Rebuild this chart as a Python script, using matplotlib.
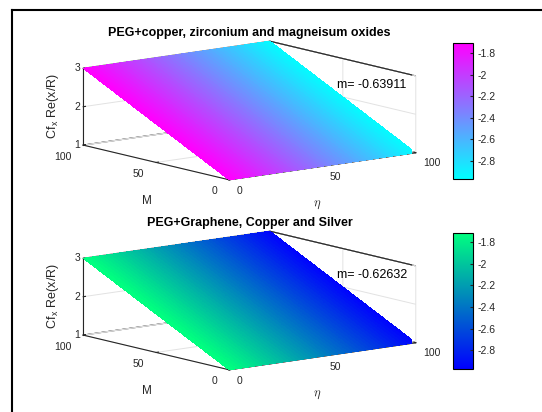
import numpy as np
import matplotlib
matplotlib.use("Agg")
import matplotlib.pyplot as plt
from matplotlib.colors import Normalize
from matplotlib.lines import Line2D
from matplotlib.ticker import FormatStrFormatter

plt.rcParams['font.family'] = ['Liberation Sans', 'DejaVu Sans']
plt.rcParams['mathtext.fontset'] = 'cm'
plt.rcParams['grid.color'] = '#e2e2e2'
plt.rcParams['grid.linewidth'] = 0.7
plt.rcParams['axes3d.automargin'] = False

# data: plane corners and colour values
eta = [0, 100]
M = [0, 100]
cf_edges = [1, 3]            # Cf_x Re(x/R) at M=0 and M=100
eta_ticks = [0, 50, 100]
M_ticks = [0, 50, 100]
cf_ticks = [1, 2, 3]
cbar_ticks = [-2.8, -2.6, -2.4, -2.2, -2, -1.8]

titles = ["PEG+copper, zirconium and magneisum oxides",
          "PEG+Graphene, Copper and Silver"]
slopes = ["m= -0.63911", "m= -0.62632"]
color_edges = [[-1.707, -2.967], [-1.717, -2.974]]   # colour at eta=0 and eta=100
cmaps = ['cool', 'winter']

W, H = 542, 412
fig = plt.figure(figsize=(W / 100, H / 100), dpi=100)
ink = '#262626'

# screenshot frame on the left and top
fig.add_artist(Line2D([12 / W, 12 / W], [0, 1 - 10 / H], color='k', lw=1.5,
                      transform=fig.transFigure))
fig.add_artist(Line2D([12 / W, 1], [1 - 10 / H, 1 - 10 / H], color='k', lw=1.5,
                      transform=fig.transFigure))

side = 334            # square 3d axes in pixels
row_offset = [0, 190]

for i in range(2):
    dy = row_offset[i]
    cx, cy = 249.5, 110.5 + dy
    left = cx - 0.5135 * side
    bottom = cy + 0.5135 * side
    ax = fig.add_axes([left / W, 1 - bottom / H, side / W, side / H],
                      projection='3d', proj_type='ortho')
    ax.patch.set_alpha(0)
    ax.set_box_aspect((1, 1, 0.33))
    ax.view_init(elev=10.7, azim=-128)

    # fine mesh of the plane for a smooth colour gradient
    g_eta = np.linspace(eta[0], eta[1], 101)
    g_M = np.linspace(M[0], M[1], 101)
    E, MM = np.meshgrid(g_eta, g_M)
    Z = np.interp(MM, M, cf_edges)
    C = np.interp(E, eta, color_edges[i])
    norm = Normalize(vmin=min(color_edges[i]), vmax=max(color_edges[i]))
    cmap = plt.get_cmap(cmaps[i])
    ax.plot_surface(E, MM, Z, facecolors=cmap(norm(C)), shade=False,
                    rcount=100, ccount=100, linewidth=0, antialiased=False)

    ax.set_xlim(eta[0], eta[-1])
    ax.set_ylim(M[0], M[-1])
    ax.set_zlim(cf_edges[0], cf_edges[-1])
    ax.set_xticks(eta_ticks)
    ax.set_yticks(M_ticks)
    ax.set_zticks(cf_ticks)

    # dark box edges of the back wall (grid would cover the pane edge)
    ax.plot([eta[-1]] * 2, [M[0]] * 2, cf_edges, color=ink, lw=0.8)
    ax.plot([eta[-1]] * 2, M, [cf_edges[-1]] * 2, color=ink, lw=0.8)

    for axis in (ax.xaxis, ax.yaxis, ax.zaxis):
        axis.set_pane_color((1, 1, 1, 1))
        axis.pane.set_edgecolor(ink)
        axis.pane.set_linewidth(0.8)
        axis.line.set_color(ink)
        axis.line.set_linewidth(0.8)
        axis._axinfo['tick']['inward_factor'] = 0.0
        axis._axinfo['tick']['outward_factor'] = 0.15
    ax.tick_params(axis='x', labelsize=7.5, pad=-1.5, colors=ink)
    ax.tick_params(axis='y', labelsize=7.5, pad=0, colors=ink)
    ax.tick_params(axis='z', labelsize=7.5, pad=-6.8, colors=ink)
    for t in ax.get_xticklabels():
        t.set_ha('left')
        t.set_va('top')
    for t in ax.get_yticklabels():
        t.set_ha('right')
        t.set_va('top')
    for t in ax.get_zticklabels():
        t.set_ha('right')
        t.set_va('center')

    fig.text(317 / W, 1 - (205 + dy) / H, r'$\eta$', ha='center', va='center',
             fontsize=9, color=ink)
    fig.text(147 / W, 1 - (201 + dy) / H, 'M', ha='center', va='center',
             fontsize=8.5, color=ink)
    fig.text(53 / W, 1 - (106 + dy) / H, r'Cf$_\mathregular{x}$ Re(x/R)',
             ha='center', va='center', rotation=90, fontsize=9, color=ink)

    fig.text(249.5 / W, 1 - (33 + dy) / H, titles[i], ha='center',
             va='center', fontsize=9, fontweight='bold')
    fig.text(337 / W, 1 - (85 + dy) / H, slopes[i], ha='left',
             va='center', fontsize=9)

    # colorbar
    cax = fig.add_axes([453 / W, 1 - (179 + dy) / H, 20 / W, 136 / H])
    sm = plt.cm.ScalarMappable(norm=norm, cmap=cmap)
    cb = fig.colorbar(sm, cax=cax, ticks=cbar_ticks)
    cb.ax.yaxis.set_major_formatter(FormatStrFormatter('%g'))
    cb.ax.tick_params(labelsize=7.5, length=2, direction='in', colors=ink)
    cb.outline.set_linewidth(0.8)

fig.savefig("out.png", dpi=100)
